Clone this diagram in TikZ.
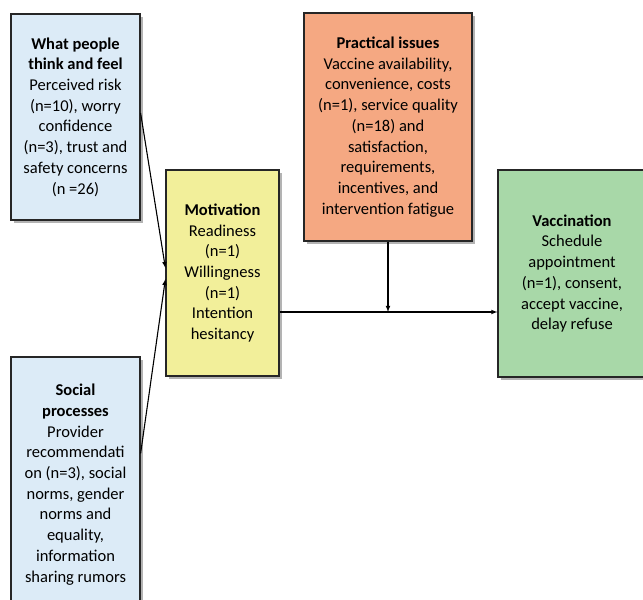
\documentclass[tikz,border=0pt]{standalone}
\usepackage{fontspec}
\setmainfont{Carlito}
\usetikzlibrary{shadows,calc}
\definecolor{thinkblue}{HTML}{DCEBF7}
\definecolor{motivyellow}{HTML}{F2EF9A}
\definecolor{issueorange}{HTML}{F5A882}
\definecolor{vaccgreen}{HTML}{A8D8A8}
\begin{document}
\begin{tikzpicture}[x=1pt,y=-1pt,
	box/.style={draw=black!85,line width=1.2pt,align=center,inner sep=2pt,
		font=\fontsize{16.5}{20.7}\selectfont,
		drop shadow={shadow xshift=2.5pt,shadow yshift=-2.5pt,opacity=0.6}},
	conn/.style={line width=1.1pt,-latex}]
	\useasboundingbox (0,0) rectangle (643,600);

	\node [box,fill=thinkblue,minimum width=129pt,minimum height=206pt] (think) at (75.5,117)
		{\textbf{What people}\\ \textbf{think and feel}\\ Perceived risk\\ (n=10), worry\\ confidence\\ (n=3), trust and\\ safety concerns\\ (n =26)};
	\node [box,fill=thinkblue,minimum width=129pt,minimum height=255pt] (social) at (75.5,484.5)
		{\textbf{Social}\\ \textbf{processes}\\ Provider\\ recommendati\\ on (n=3), social\\ norms, gender\\ norms and\\ equality,\\ information\\ sharing rumors};
	\node [box,fill=motivyellow,minimum width=113pt,minimum height=206pt] (motiv) at (222.5,273)
		{\textbf{Motivation}\\ Readiness\\ (n=1)\\ Willingness\\ (n=1)\\ Intention\\ hesitancy};
	\node [box,fill=issueorange,minimum width=168pt,minimum height=228pt] (issues) at (388,127)
		{\textbf{Practical issues}\\ Vaccine availability,\\ convenience, costs\\ (n=1), service quality\\ (n=18) and\\ satisfaction,\\ requirements,\\ incentives, and\\ intervention fatigue};
	\node [box,fill=vaccgreen,minimum width=148pt,minimum height=207pt] (vacc) at (572,273.5)
		{\textbf{Vaccination}\\ Schedule\\ appointment\\ (n=1), consent,\\ accept vaccine,\\ delay refuse};

	% into motivation
	\draw [conn] ($(think.east)+(0,-4)$) -- ($(motiv.west)+(0,-5)$);
	\draw [conn] ($(social.east)+(0,-31)$) -- ($(motiv.west)+(0,6)$);

	% motivation to vaccination, practical issues join in
	\coordinate (mright) at ($(motiv.east)+(0,39)$);
	\draw [conn] (mright) -- (mright -| vacc.west);
	\draw [conn] (issues.south) -- (issues.south |- mright);
\end{tikzpicture}
\end{document}
